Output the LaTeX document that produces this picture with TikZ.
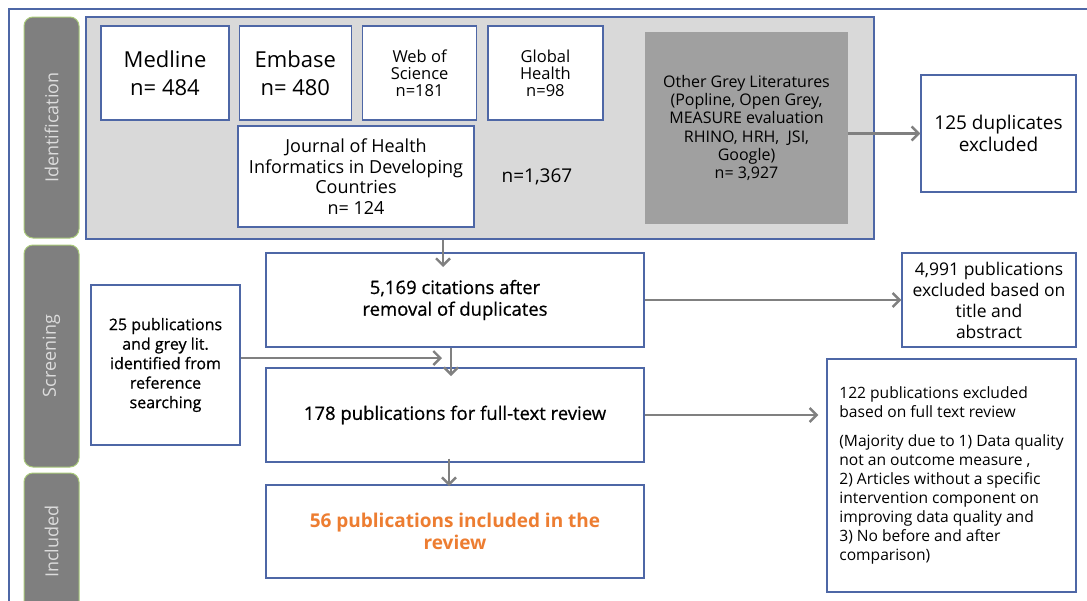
\documentclass[tikz,border=0pt]{standalone}
\usepackage{fontspec}
\setmainfont{Open Sans}
\newfontfamily\semifont[FakeBold=0.7]{Open Sans}
\usetikzlibrary{arrows.meta, positioning}
\definecolor{boxblue}{HTML}{4E67A6}
\definecolor{idgrey}{HTML}{D9D9D9}
\definecolor{litgrey}{HTML}{A0A0A0}
\definecolor{phasegrey}{HTML}{7F7F7F}
\definecolor{phasegreen}{HTML}{A9C97A}
\definecolor{phasetext}{HTML}{DCDCDC}
\definecolor{arrowgrey}{HTML}{808080}
\definecolor{inclorange}{HTML}{ED7D31}

\begin{document}
\begin{tikzpicture}[x=1pt, y=-1pt,
  srcbox/.style={draw=boxblue, line width=1.3pt, fill=white, rectangle, align=center, inner sep=2pt},
  phase/.style={draw=phasegreen, line width=1pt, fill=phasegrey, rounded corners=9pt, rotate=90, minimum height=55pt, text=phasetext, font=\fontsize{18}{20}\selectfont},
  arr/.style={draw=arrowgrey, line width=2.4pt, -{Straight Barb[length=7pt, width=14pt]}}]
  \clip (0,0) rectangle (1087,600);
  % Outer frame
  \draw[boxblue, line width=1.3pt] (9,9) rectangle (1110,620);
  % Phase labels
  \node[phase, minimum width=221pt] (identification) at (51.5,127.5) {Identification};
  \node[phase, minimum width=222pt] (screening) at (51.5,356) {Screening};
  \node[phase, minimum width=137pt] (included) at (51.5,541.5) {Included};
  % Identification: grey box of sources
  \node[draw=boxblue, line width=1.3pt, fill=idgrey, minimum width=788pt, minimum height=222pt] (sources) at (480,128) {};
  \node[srcbox, minimum width=128pt, minimum height=94pt, font=\fontsize{22}{28}\selectfont] (medline) at (165,73) {Medline\\n= 484};
  \node[srcbox, minimum width=112pt, minimum height=94pt, font=\fontsize{22}{28}\selectfont, right=9pt of medline] (embase) {Embase\\n= 480};
  \node[srcbox, minimum width=114pt, minimum height=94pt, font=\fontsize{16.5}{17}\selectfont, right=10pt of embase] (wos) {Web of\\Science\\n=181};
  \node[srcbox, minimum width=115pt, minimum height=94pt, font=\fontsize{16.5}{17}\selectfont, right=10pt of wos] (global) {Global\\Health\\n=98};
  \node[srcbox, minimum width=236pt, minimum height=101pt, font=\fontsize{18}{20.5}\selectfont] (journal) at (356,176.5) {Journal of Health\\Informatics in Developing\\Countries\\n= 124};
  \node[font=\fontsize{19}{20}\selectfont] (total) at (537,177) {n=1,367};
  \node[fill=litgrey, minimum width=203pt, minimum height=192pt, align=center, font=\fontsize{16}{18.3}\selectfont] (otherlit) at (746.5,128) {Other Grey Literatures\\(Popline, Open Grey,\\MEASURE evaluation\\RHINO, HRH,\ \ JSI,\\Google)\\n= 3,927};
  \node[srcbox, minimum width=155pt, minimum height=117pt, font=\fontsize{19}{22}\selectfont] (duplicates) at (998.5,133.5) {125 duplicates\\excluded};
  % Screening
  \node[srcbox, minimum width=378pt, minimum height=94pt, font=\semifont\fontsize{18.5}{21.7}\selectfont] (dedup) at (455,300) {5,169 citations after\\removal of duplicates};
  \node[srcbox, minimum width=378pt, minimum height=94pt, font=\semifont\fontsize{18.5}{21.7}\selectfont] (fulltext) at (455,415) {178 publications for full-text review};
  \node[srcbox, minimum width=149pt, minimum height=160pt, font=\semifont\fontsize{16}{19.5}\selectfont] (refsearch) at (165.5,365) {25 publications\\and grey lit.\\identified from\\reference\\searching};
  \node[srcbox, minimum width=174pt, minimum height=94pt, font=\fontsize{17.5}{21}\selectfont] (titleexcl) at (989,300) {4,991 publications\\excluded based on\\title and\\abstract};
  \node[srcbox, align=left, minimum width=249pt, minimum height=233pt, font=\fontsize{15.6}{19}\selectfont] (fullexcl) at (951.5,475.5) {122 publications excluded\\based on full text review\\[10pt](Majority due to 1) Data quality\\not an outcome measure ,\\2) Articles without a specific\\intervention component on\\improving data quality and\\3) No before and after\\comparison)};
  % Included
  \node[srcbox, minimum width=378pt, minimum height=93pt, text=inclorange, font=\bfseries\fontsize{19}{22}\selectfont] (final) at (455,531.5) {56 publications included in the\\review};
  % Arrows
  \coordinate (merge) at (442,358);
  \coordinate (dedupin) at (443,267);
  \coordinate (fulltextin) at (451,376);
  \coordinate (finalin) at (449,486);
  \draw[arr] (duplicates.west -| otherlit.east) -- (duplicates.west);
  \draw[arr] (sources.south -| dedupin) -- (dedupin);
  \draw[arr] (dedup) -- (titleexcl);
  \draw[arr] (refsearch.east |- merge) -- (merge);
  \draw[arr] (dedup.south -| fulltextin) -- (fulltextin);
  \draw[arr, shorten >=8pt] (fulltext.east) -- (fulltext.east -| fullexcl.west);
  \draw[arr] ([yshift=4pt]fulltext.south -| finalin) -- (finalin);
\end{tikzpicture}
\end{document}
